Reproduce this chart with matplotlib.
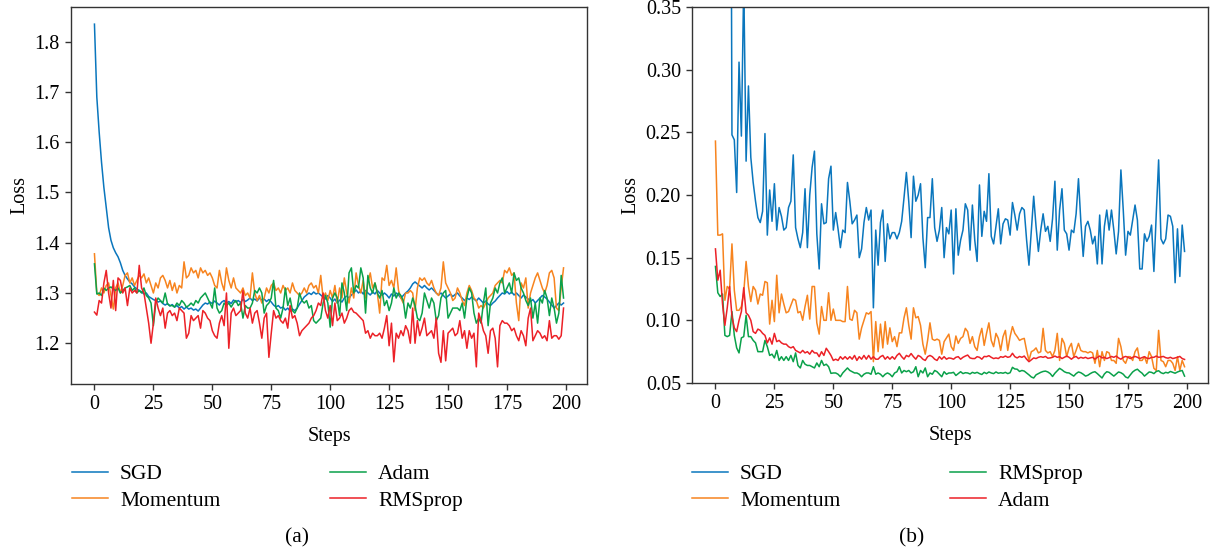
import matplotlib
matplotlib.use("Agg")
import matplotlib.pyplot as plt
import numpy as np

plt.rcParams['font.family'] = 'serif'
plt.rcParams['font.serif'] = ['Liberation Serif', 'DejaVu Serif']

# ---- panel (a) ----
a_sgd = [
    1.835, 1.69, 1.62, 1.56, 1.51, 1.47, 1.43, 1.405, 1.39, 1.38,
    1.372, 1.36, 1.345, 1.335, 1.328, 1.322, 1.318, 1.312, 1.308, 1.305,
    1.302, 1.298, 1.30, 1.293, 1.29, 1.287, 1.285, 1.282, 1.284, 1.279,
    1.276, 1.279, 1.274, 1.277, 1.272, 1.275, 1.27, 1.273, 1.268, 1.272,
    1.268, 1.27, 1.266, 1.268, 1.264, 1.27, 1.276, 1.28, 1.278, 1.282,
    1.279, 1.284, 1.28, 1.276, 1.282, 1.285, 1.28, 1.283, 1.279, 1.286,
    1.282, 1.285, 1.281, 1.288, 1.283, 1.286, 1.29, 1.285, 1.288, 1.284,
    1.29, 1.286, 1.288, 1.283, 1.287, 1.282, 1.276, 1.272, 1.275, 1.27,
    1.272, 1.266, 1.27, 1.264, 1.268, 1.265, 1.27, 1.278, 1.285, 1.292,
    1.296, 1.30, 1.297, 1.302, 1.298, 1.30, 1.296, 1.292, 1.288, 1.295,
    1.29, 1.283, 1.288, 1.28, 1.286, 1.282, 1.29, 1.294, 1.29, 1.296,
    1.30, 1.306, 1.30, 1.304, 1.298, 1.305, 1.30, 1.296, 1.302, 1.298,
    1.305, 1.30, 1.295, 1.30, 1.296, 1.29, 1.298, 1.294, 1.30, 1.296,
    1.29, 1.295, 1.30, 1.304, 1.31, 1.318, 1.322, 1.318, 1.314, 1.31,
    1.315, 1.31, 1.306, 1.31, 1.305, 1.30, 1.296, 1.30, 1.295, 1.29,
    1.294, 1.298, 1.293, 1.297, 1.30, 1.294, 1.29, 1.285, 1.29, 1.287,
    1.292, 1.288, 1.284, 1.29, 1.285, 1.28, 1.284, 1.278, 1.275, 1.28,
    1.284, 1.29, 1.295, 1.30, 1.298, 1.303, 1.298, 1.302, 1.296, 1.30,
    1.295, 1.29, 1.296, 1.292, 1.288, 1.283, 1.287, 1.28, 1.285, 1.29,
    1.295, 1.292, 1.288, 1.282, 1.276, 1.27, 1.275, 1.28, 1.276, 1.28,
]
a_momentum = [
    1.378, 1.30, 1.295, 1.31, 1.30, 1.315, 1.32, 1.295, 1.268, 1.31,
    1.32, 1.30, 1.315, 1.335, 1.34, 1.32, 1.33, 1.315, 1.325, 1.335,
    1.33, 1.338, 1.32, 1.33, 1.315, 1.30, 1.32, 1.31, 1.33, 1.335,
    1.325, 1.31, 1.325, 1.305, 1.32, 1.30, 1.315, 1.31, 1.362, 1.33,
    1.335, 1.35, 1.34, 1.345, 1.33, 1.35, 1.34, 1.345, 1.335, 1.34,
    1.33, 1.315, 1.31, 1.345, 1.32, 1.305, 1.35, 1.325, 1.31, 1.33,
    1.31, 1.305, 1.30, 1.31, 1.295, 1.30, 1.29, 1.34, 1.30, 1.285,
    1.295, 1.28, 1.29, 1.31, 1.30, 1.315, 1.32, 1.305, 1.31, 1.30,
    1.315, 1.305, 1.31, 1.30, 1.32, 1.305, 1.30, 1.295, 1.30, 1.31,
    1.30, 1.315, 1.32, 1.31, 1.315, 1.30, 1.335, 1.29, 1.30, 1.285,
    1.305, 1.29, 1.315, 1.28, 1.31, 1.29, 1.33, 1.30, 1.28, 1.31,
    1.29, 1.34, 1.315, 1.30, 1.325, 1.29, 1.32, 1.34, 1.31, 1.32,
    1.30, 1.26, 1.33, 1.325, 1.355, 1.315, 1.325, 1.31, 1.35, 1.305,
    1.29, 1.28, 1.30, 1.30, 1.305, 1.30, 1.265, 1.31, 1.33, 1.325,
    1.33, 1.32, 1.315, 1.325, 1.31, 1.30, 1.295, 1.31, 1.362, 1.32,
    1.31, 1.30, 1.285, 1.29, 1.31, 1.30, 1.285, 1.275, 1.30, 1.315,
    1.305, 1.29, 1.285, 1.27, 1.275, 1.27, 1.28, 1.29, 1.295, 1.30,
    1.315, 1.32, 1.325, 1.32, 1.345, 1.34, 1.35, 1.335, 1.34, 1.28,
    1.245, 1.32, 1.31, 1.33, 1.27, 1.30, 1.315, 1.33, 1.34, 1.325,
    1.31, 1.30, 1.315, 1.34, 1.345, 1.33, 1.27, 1.265, 1.31, 1.35,
]
a_adam = [
    1.358, 1.298, 1.30, 1.295, 1.31, 1.305, 1.31, 1.312, 1.308, 1.305,
    1.31, 1.30, 1.305, 1.31, 1.312, 1.315, 1.305, 1.31, 1.30, 1.305,
    1.30, 1.31, 1.295, 1.29, 1.28, 1.235, 1.28, 1.29, 1.285, 1.28,
    1.30, 1.278, 1.275, 1.275, 1.272, 1.28, 1.275, 1.285, 1.28, 1.272,
    1.275, 1.28, 1.275, 1.285, 1.28, 1.29, 1.295, 1.30, 1.29, 1.28,
    1.27, 1.31, 1.27, 1.26, 1.265, 1.28, 1.275, 1.28, 1.272, 1.28,
    1.285, 1.275, 1.28, 1.25, 1.275, 1.27, 1.27, 1.28, 1.305, 1.30,
    1.31, 1.30, 1.26, 1.275, 1.28, 1.29, 1.325, 1.27, 1.265, 1.25,
    1.27, 1.31, 1.275, 1.29, 1.265, 1.26, 1.27, 1.30, 1.285, 1.28,
    1.285, 1.27, 1.275, 1.245, 1.24, 1.245, 1.25, 1.28, 1.295, 1.28,
    1.232, 1.29, 1.30, 1.29, 1.255, 1.32, 1.30, 1.265, 1.34, 1.35,
    1.30, 1.315, 1.31, 1.35, 1.33, 1.26, 1.335, 1.31, 1.30, 1.32,
    1.30, 1.29, 1.305, 1.275, 1.285, 1.265, 1.28, 1.31, 1.29, 1.30,
    1.295, 1.285, 1.25, 1.28, 1.27, 1.29, 1.275, 1.25, 1.245, 1.26,
    1.30, 1.285, 1.27, 1.29, 1.28, 1.245, 1.255, 1.29, 1.30, 1.305,
    1.25, 1.26, 1.27, 1.27, 1.27, 1.265, 1.28, 1.25, 1.29, 1.31,
    1.30, 1.26, 1.24, 1.25, 1.24, 1.28, 1.31, 1.235, 1.28, 1.29,
    1.31, 1.30, 1.32, 1.33, 1.30, 1.31, 1.32, 1.30, 1.34, 1.325,
    1.33, 1.31, 1.30, 1.285, 1.275, 1.29, 1.25, 1.28, 1.24, 1.29,
    1.28, 1.305, 1.29, 1.255, 1.29, 1.27, 1.24, 1.26, 1.335, 1.29,
]
a_rmsprop = [
    1.262, 1.256, 1.285, 1.28, 1.32, 1.345, 1.30, 1.27, 1.325, 1.265,
    1.33, 1.325, 1.30, 1.31, 1.275, 1.31, 1.30, 1.305, 1.30, 1.355,
    1.31, 1.30, 1.27, 1.24, 1.20, 1.24, 1.29, 1.27, 1.255, 1.27,
    1.23, 1.26, 1.265, 1.255, 1.26, 1.245, 1.27, 1.265, 1.26, 1.21,
    1.22, 1.255, 1.245, 1.25, 1.255, 1.23, 1.265, 1.26, 1.25, 1.245,
    1.225, 1.215, 1.21, 1.24, 1.255, 1.235, 1.30, 1.19, 1.26, 1.27,
    1.255, 1.26, 1.265, 1.305, 1.26, 1.25, 1.27, 1.24, 1.26, 1.265,
    1.24, 1.21, 1.25, 1.26, 1.172, 1.22, 1.265, 1.25, 1.255, 1.245,
    1.24, 1.25, 1.23, 1.275, 1.25, 1.255, 1.24, 1.215, 1.225, 1.23,
    1.235, 1.24, 1.25, 1.255, 1.265, 1.28, 1.275, 1.30, 1.265, 1.25,
    1.275, 1.235, 1.28, 1.245, 1.25, 1.26, 1.24, 1.25, 1.265, 1.27,
    1.262, 1.26, 1.255, 1.25, 1.245, 1.22, 1.225, 1.21, 1.22, 1.215,
    1.215, 1.22, 1.21, 1.23, 1.255, 1.195, 1.24, 1.163, 1.22, 1.21,
    1.225, 1.215, 1.235, 1.225, 1.20, 1.27, 1.20, 1.245, 1.215, 1.23,
    1.25, 1.215, 1.22, 1.225, 1.21, 1.25, 1.18, 1.162, 1.225, 1.165,
    1.22, 1.225, 1.23, 1.215, 1.22, 1.245, 1.21, 1.225, 1.19, 1.225,
    1.21, 1.22, 1.153, 1.26, 1.245, 1.225, 1.215, 1.18, 1.225, 1.23,
    1.21, 1.153, 1.235, 1.245, 1.24, 1.24, 1.235, 1.225, 1.23, 1.215,
    1.205, 1.225, 1.215, 1.195, 1.25, 1.27, 1.205, 1.215, 1.225, 1.22,
    1.21, 1.215, 1.205, 1.245, 1.21, 1.215, 1.215, 1.208, 1.215, 1.27,
]

# ---- panel (b) ----
b_sgd = [
    2.30, 1.50, 1.20, 1.00, 0.90, 0.85, 0.80, 0.248, 0.244, 0.202,
    0.306, 0.247, 0.37, 0.227, 0.287, 0.23, 0.21, 0.195, 0.182, 0.178,
    0.187, 0.249, 0.168, 0.204, 0.179, 0.209, 0.172, 0.19, 0.183, 0.172,
    0.174, 0.19, 0.195, 0.232, 0.174, 0.165, 0.158, 0.17, 0.205, 0.158,
    0.20, 0.222, 0.235, 0.169, 0.141, 0.193, 0.177, 0.178, 0.213, 0.223,
    0.172, 0.186, 0.173, 0.158, 0.172, 0.17, 0.21, 0.195, 0.177, 0.18,
    0.184, 0.15, 0.157, 0.178, 0.19, 0.18, 0.188, 0.11, 0.172, 0.144,
    0.178, 0.188, 0.147, 0.177, 0.165, 0.17, 0.17, 0.165, 0.17, 0.179,
    0.198, 0.218, 0.195, 0.166, 0.215, 0.195, 0.20, 0.209, 0.166, 0.142,
    0.182, 0.182, 0.213, 0.174, 0.163, 0.172, 0.19, 0.15, 0.174, 0.169,
    0.188, 0.137, 0.189, 0.152, 0.164, 0.172, 0.193, 0.188, 0.156, 0.192,
    0.164, 0.147, 0.208, 0.167, 0.187, 0.179, 0.217, 0.167, 0.161, 0.175,
    0.189, 0.161, 0.177, 0.181, 0.18, 0.168, 0.194, 0.184, 0.172, 0.185,
    0.19, 0.188, 0.164, 0.144, 0.172, 0.199, 0.175, 0.155, 0.172, 0.185,
    0.171, 0.175, 0.163, 0.181, 0.211, 0.156, 0.188, 0.205, 0.172, 0.169,
    0.156, 0.172, 0.17, 0.185, 0.213, 0.179, 0.151, 0.175, 0.179, 0.172,
    0.161, 0.167, 0.145, 0.184, 0.145, 0.175, 0.188, 0.172, 0.188, 0.172,
    0.153, 0.171, 0.22, 0.188, 0.152, 0.171, 0.168, 0.18, 0.192, 0.18,
    0.141, 0.141, 0.169, 0.163, 0.167, 0.176, 0.139, 0.185, 0.228, 0.165,
    0.161, 0.165, 0.184, 0.183, 0.175, 0.13, 0.173, 0.135, 0.176, 0.155,
]
b_momentum = [
    0.243, 0.168, 0.168, 0.169, 0.116, 0.127, 0.125, 0.161, 0.124, 0.108,
    0.108, 0.111, 0.122, 0.147, 0.127, 0.115, 0.127, 0.124, 0.113, 0.121,
    0.12, 0.131, 0.13, 0.097, 0.116, 0.099, 0.136, 0.106, 0.121, 0.113,
    0.106, 0.107, 0.112, 0.117, 0.116, 0.106, 0.107, 0.10, 0.111, 0.12,
    0.101, 0.127, 0.127, 0.098, 0.089, 0.111, 0.10, 0.10, 0.122, 0.10,
    0.109, 0.10, 0.10, 0.10, 0.099, 0.099, 0.127, 0.101, 0.10, 0.108,
    0.106, 0.085, 0.094, 0.10, 0.106, 0.105, 0.107, 0.067, 0.099, 0.075,
    0.097, 0.078, 0.099, 0.081, 0.094, 0.083, 0.087, 0.079, 0.09, 0.09,
    0.102, 0.11, 0.096, 0.085, 0.11, 0.102, 0.103, 0.096, 0.081, 0.073,
    0.084, 0.098, 0.085, 0.084, 0.085, 0.084, 0.073, 0.083, 0.086, 0.089,
    0.079, 0.076, 0.0875, 0.0816, 0.0856, 0.087, 0.0936, 0.091, 0.0816, 0.087,
    0.079, 0.076, 0.087, 0.0936, 0.080, 0.0896, 0.098, 0.084, 0.079, 0.0896,
    0.0856, 0.076, 0.087, 0.092, 0.076, 0.087, 0.095, 0.0896, 0.087, 0.084,
    0.085, 0.0856, 0.076, 0.068, 0.075, 0.076, 0.078, 0.074, 0.075, 0.0936,
    0.076, 0.074, 0.075, 0.071, 0.076, 0.0896, 0.068, 0.0856, 0.0816, 0.071,
    0.078, 0.0816, 0.071, 0.076, 0.0816, 0.076, 0.075, 0.075, 0.074, 0.075,
    0.074, 0.0657, 0.076, 0.063, 0.075, 0.068, 0.075, 0.074, 0.068, 0.068,
    0.0657, 0.0856, 0.079, 0.068, 0.0657, 0.071, 0.071, 0.068, 0.075, 0.078,
    0.068, 0.068, 0.071, 0.0657, 0.075, 0.071, 0.0617, 0.060, 0.092, 0.068,
    0.067, 0.063, 0.068, 0.068, 0.0657, 0.060, 0.071, 0.060, 0.068, 0.063,
]
b_rmsprop = [
    0.143, 0.122, 0.119, 0.121, 0.088, 0.087, 0.088, 0.107, 0.088, 0.078,
    0.074, 0.086, 0.087, 0.104, 0.087, 0.087, 0.084, 0.082, 0.075, 0.075,
    0.075, 0.084, 0.079, 0.072, 0.073, 0.07, 0.076, 0.068, 0.071, 0.068,
    0.071, 0.068, 0.072, 0.067, 0.074, 0.064, 0.062, 0.068, 0.065, 0.064,
    0.064, 0.063, 0.062, 0.066, 0.063, 0.068, 0.064, 0.065, 0.063, 0.0577,
    0.058, 0.058, 0.057, 0.055, 0.058, 0.06, 0.062, 0.06, 0.059, 0.058,
    0.058, 0.057, 0.055, 0.057, 0.058, 0.058, 0.057, 0.063, 0.057, 0.058,
    0.057, 0.055, 0.057, 0.058, 0.057, 0.055, 0.058, 0.059, 0.063, 0.058,
    0.060, 0.059, 0.060, 0.058, 0.059, 0.063, 0.055, 0.060, 0.058, 0.062,
    0.055, 0.058, 0.057, 0.060, 0.059, 0.057, 0.055, 0.059, 0.057, 0.058,
    0.058, 0.0585, 0.056, 0.0575, 0.059, 0.0575, 0.0582, 0.058, 0.0572, 0.0585,
    0.0578, 0.0585, 0.0575, 0.0568, 0.0585, 0.0575, 0.0588, 0.058, 0.0575, 0.0588,
    0.0578, 0.0582, 0.0578, 0.0585, 0.0575, 0.0582, 0.0625, 0.0612, 0.061, 0.0592,
    0.060, 0.0595, 0.058, 0.0565, 0.0548, 0.054, 0.0565, 0.0575, 0.0585, 0.0592,
    0.0595, 0.0588, 0.0575, 0.0552, 0.0578, 0.0598, 0.0617, 0.0605, 0.059, 0.0582,
    0.058, 0.0568, 0.0555, 0.0575, 0.0588, 0.0582, 0.057, 0.0555, 0.0562, 0.0575,
    0.0585, 0.059, 0.0575, 0.0558, 0.054, 0.0572, 0.059, 0.0585, 0.057, 0.0555,
    0.0572, 0.0588, 0.0582, 0.057, 0.0548, 0.054, 0.0565, 0.0588, 0.0602, 0.061,
    0.0592, 0.0578, 0.0555, 0.0572, 0.0588, 0.0585, 0.0575, 0.0592, 0.0598, 0.0582,
    0.0575, 0.0585, 0.058, 0.0592, 0.0585, 0.0578, 0.0588, 0.0595, 0.060, 0.0555,
]
b_adam = [
    0.157, 0.132, 0.14, 0.113, 0.096, 0.11, 0.127, 0.103, 0.094, 0.091,
    0.10, 0.107, 0.126, 0.106, 0.104, 0.10, 0.091, 0.0896, 0.093, 0.092,
    0.0896, 0.088, 0.082, 0.086, 0.081, 0.0896, 0.083, 0.084, 0.082, 0.081,
    0.081, 0.079, 0.078, 0.079, 0.076, 0.075, 0.074, 0.076, 0.074, 0.075,
    0.073, 0.076, 0.074, 0.074, 0.071, 0.075, 0.072, 0.0777, 0.075, 0.072,
    0.068, 0.069, 0.068, 0.071, 0.069, 0.071, 0.069, 0.071, 0.069, 0.072,
    0.068, 0.071, 0.069, 0.072, 0.069, 0.072, 0.069, 0.071, 0.069, 0.069,
    0.071, 0.072, 0.069, 0.071, 0.069, 0.071, 0.069, 0.072, 0.0737, 0.071,
    0.069, 0.072, 0.071, 0.0735, 0.071, 0.069, 0.072, 0.071, 0.069, 0.068,
    0.071, 0.072, 0.071, 0.069, 0.068, 0.071, 0.069, 0.071, 0.069, 0.07,
    0.0697, 0.069, 0.0705, 0.071, 0.069, 0.0705, 0.0715, 0.0723, 0.070, 0.0695,
    0.0695, 0.071, 0.0705, 0.069, 0.0712, 0.071, 0.0718, 0.0705, 0.0695, 0.070,
    0.0695, 0.071, 0.0705, 0.0715, 0.0705, 0.071, 0.0737, 0.071, 0.070, 0.0712,
    0.0705, 0.0715, 0.069, 0.067, 0.0685, 0.070, 0.0695, 0.0705, 0.071, 0.0705,
    0.0712, 0.0698, 0.070, 0.0705, 0.0715, 0.0705, 0.071, 0.0695, 0.0705, 0.0715,
    0.0705, 0.069, 0.0705, 0.0712, 0.0695, 0.0705, 0.0698, 0.0705, 0.0695, 0.070,
    0.0705, 0.069, 0.0705, 0.0715, 0.070, 0.0705, 0.0695, 0.0702, 0.0712, 0.0705,
    0.0715, 0.070, 0.069, 0.0705, 0.0712, 0.0705, 0.0695, 0.0705, 0.0712, 0.0705,
    0.0695, 0.0703, 0.071, 0.0698, 0.0695, 0.0705, 0.0705, 0.0715, 0.0705, 0.0708,
    0.0712, 0.0702, 0.0698, 0.0705, 0.0695, 0.070, 0.0705, 0.0712, 0.0695, 0.0688,
]

xticks = [0, 25, 50, 75, 100, 125, 150, 175, 200]

BLUE = '#0a76bd'
ORANGE = '#f7841f'
GREEN = '#0aa14a'
RED = '#ec2127'


def draw_panel(ax, series, ylim=None):
    for vals, name, color in series:
        ax.plot(np.arange(len(vals)), vals, color=color, lw=1.1, label=name)
    ax.set_xticks(xticks)
    if ylim is not None:
        ax.set_ylim(*ylim)
    ax.set_xlabel('Steps', fontsize=14.5, labelpad=9)
    ax.set_ylabel('Loss', fontsize=14.5)
    ax.tick_params(labelsize=14.5, color='#333333', width=1.0, length=4.5)
    for s in ax.spines.values():
        s.set_color('#333333')
        s.set_linewidth(1.0)


fig = plt.figure(figsize=(12.14, 5.56), dpi=100)
ax_a = fig.add_axes([71 / 1214, 1 - 384 / 556, 516 / 1214, 377 / 556])
ax_b = fig.add_axes([692 / 1214, 1 - 383 / 556, 516 / 1214, 376 / 556])

draw_panel(ax_a, [(a_sgd, 'SGD', BLUE), (a_momentum, 'Momentum', ORANGE),
                  (a_adam, 'Adam', GREEN), (a_rmsprop, 'RMSprop', RED)])
draw_panel(ax_b, [(b_sgd, 'SGD', BLUE), (b_momentum, 'Momentum', ORANGE),
                  (b_rmsprop, 'RMSprop', GREEN), (b_adam, 'Adam', RED)],
           ylim=(0.05, 0.35))

for ax, x0 in [(ax_a, 72), (ax_b, 692)]:
    ax.legend(loc='upper left', bbox_to_anchor=(x0 / 1214, 1 - 464 / 556),
              bbox_transform=fig.transFigure, ncol=2, frameon=False,
              fontsize=15.5, borderpad=0, borderaxespad=0,
              handlelength=1.67, handletextpad=0.56, columnspacing=5.1,
              labelspacing=0.3)

fig.text(297 / 1214, 1 - 538 / 556, '(a)', ha='center', va='center', fontsize=15.5)
fig.text(912 / 1214, 1 - 538 / 556, '(b)', ha='center', va='center', fontsize=15.5)

fig.savefig('out.png', dpi=100)
